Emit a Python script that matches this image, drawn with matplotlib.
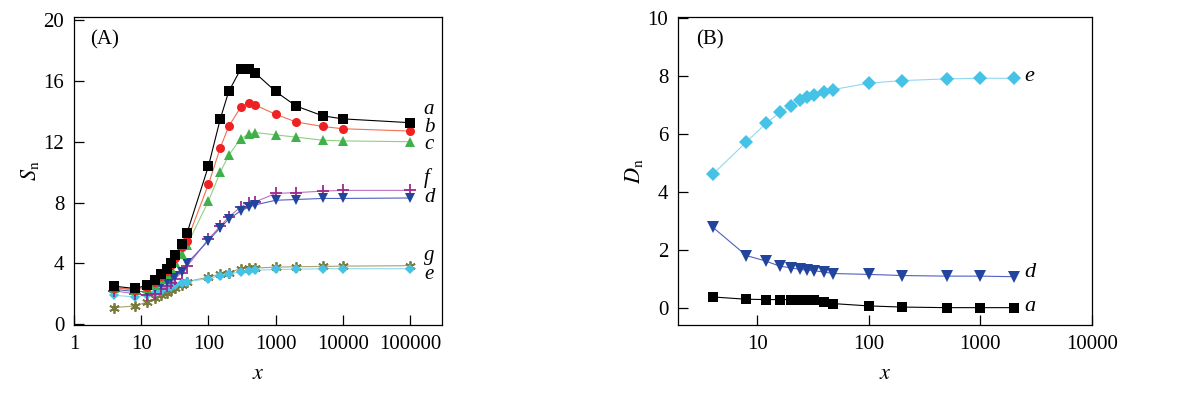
import matplotlib
matplotlib.use('Agg')
import matplotlib.pyplot as plt

plt.rcParams['font.family'] = ['Liberation Serif', 'DejaVu Serif']
plt.rcParams['mathtext.fontset'] = 'stix'

# ---- data, panel A ----
xA = [4, 8, 12, 16, 20, 24, 28, 32, 40, 48, 100, 150, 200, 300, 400, 500,
      1000, 2000, 5000, 10000, 100000]
Sa = [2.5, 2.35, 2.55, 2.9, 3.3, 3.65, 4.05, 4.55, 5.3, 6.0, 10.4, 13.5, 15.3,
      16.75, 16.8, 16.5, 15.3, 14.35, 13.7, 13.5, 13.25]
Sb = [2.4, 2.28, 2.45, 2.75, 3.15, 3.5, 3.9, 4.35, 5.1, 5.5, 9.2, 11.6, 13.0,
      14.25, 14.55, 14.4, 13.8, 13.3, 13.0, 12.85, 12.7]
Sc = [2.4, 2.25, 2.4, 2.6, 3.0, 3.3, 3.7, 4.1, 4.6, 5.2, 8.1, 10.0, 11.1,
      12.2, 12.5, 12.6, 12.45, 12.3, 12.1, 12.05, 12.0]
Sd = [2.3, 2.15, 2.15, 2.4, 2.55, 2.75, 3.0, 3.2, 3.45, 4.0, 5.5, 6.35, 6.9,
      7.45, 7.7, 7.85, 8.15, 8.2, 8.27, 8.27, 8.3]
Sf = [2.2, 2.0, 1.9, 2.0, 2.3, 2.5, 2.7, 3.0, 3.4, 3.8, 5.6, 6.45, 7.05,
      7.7, 8.0, 8.05, 8.6, 8.65, 8.75, 8.8, 8.8]
Sg = [1.1, 1.2, 1.45, 1.7, 1.9, 2.05, 2.25, 2.4, 2.6, 2.8, 3.1, 3.3, 3.4,
      3.65, 3.7, 3.7, 3.75, 3.78, 3.8, 3.82, 3.85]
Se = [1.9, 1.8, 1.9, 2.05, 2.2, 2.35, 2.45, 2.55, 2.7, 2.8, 3.0, 3.2, 3.3,
      3.45, 3.5, 3.55, 3.6, 3.62, 3.65, 3.65, 3.65]

# ---- data, panel B ----
xB = [4, 8, 12, 16, 20, 24, 28, 32, 40, 48, 100, 200, 500, 1000, 2000]
De = [4.61, 5.73, 6.37, 6.75, 6.98, 7.18, 7.29, 7.36, 7.47, 7.54, 7.76, 7.85,
      7.91, 7.93, 7.93]
Dd = [2.78, 1.80, 1.61, 1.43, 1.38, 1.32, 1.30, 1.28, 1.23, 1.18, 1.15, 1.11,
      1.09, 1.09, 1.07]
Da = [0.37, 0.29, 0.28, 0.28, 0.28, 0.28, 0.27, 0.26, 0.21, 0.14, 0.06, 0.02,
      0.0, 0.0, 0.0]

ticksA = [1, 10, 100, 1000, 10000, 100000]
ticksB = [10, 100, 1000, 10000]

# style per series: marker, marker colour, line colour
sty = {
    'a': ('s', '#000000', '#000000'),
    'b': ('o', '#ee2222', '#f07050'),
    'c': ('^', '#3fb04a', '#90d080'),
    'd': ('v', '#23449c', '#5060c0'),
    'f': ('+', '#a0288c', '#c070c0'),
    'g': ('*', '#7a7a3c', '#a8a070'),
    'e': ('D', '#45c3e6', '#90d8f0'),
}

fig = plt.figure(figsize=(11.84, 3.98), dpi=100)
ax0 = fig.add_axes([0.0625, 0.1834, 0.311, 0.774])
ax1 = fig.add_axes([0.5726, 0.1834, 0.3497, 0.774])


def draw(ax, x, y, key, ms=7):
    m, mc, lc = sty[key]
    ax.plot(x, y, '-', color=lc, lw=0.8, zorder=2)
    if m == '+':
        ax.plot(x, y, ls='none', marker='+', ms=ms + 2, mew=1.3, color=mc, zorder=3)
    elif m == '*':
        ax.plot(x, y, ls='none', marker=(6, 2, 0), ms=ms + 1, mew=1.3, color=mc, zorder=3)
    else:
        s = ms - 1 if m == 'D' else ms
        ax.plot(x, y, ls='none', marker=m, ms=s, mew=0, color=mc, zorder=3)


for k, y in [('g', Sg), ('e', Se), ('f', Sf), ('d', Sd), ('c', Sc), ('b', Sb), ('a', Sa)]:
    draw(ax0, xA, y, k, ms=6.5)

draw(ax1, xB, De, 'e', ms=8)
draw(ax1, xB, Dd, 'd', ms=8)
draw(ax1, xB, Da, 'a', ms=7)

# panel A axes
ax0.set_xscale('log')
ax0.set_xlim(1, 3e5)
ax0.set_ylim(-0.05, 20.2)
ax0.set_xticks(ticksA)
ax0.set_xticklabels([str(t) for t in ticksA])
ax0.set_yticks([0, 4, 8, 12, 16, 20])
ax0.set_ylabel(r'$S_{\rm n}$', fontsize=16, labelpad=2)
ax0.set_xlabel(r'$x$', fontsize=16, labelpad=8)
ax0.text(0.045, 0.925, '(A)', transform=ax0.transAxes, fontsize=15, va='center')
for lab, yy in [('a', 14.1), ('b', 12.95), ('c', 11.8), ('f', 9.6), ('d', 8.3),
                ('g', 4.5), ('e', 3.3)]:
    ax0.text(1.6e5, yy, lab, fontsize=15, style='italic', va='center', ha='left')

# panel B axes
ax1.set_xscale('log')
ax1.set_xlim(1.95, 10000)
ax1.set_ylim(-0.6, 10.05)
ax1.set_xticks(ticksB)
ax1.set_xticklabels([str(t) for t in ticksB])
ax1.set_yticks([0, 2, 4, 6, 8, 10])
ax1.set_ylabel(r'$D_{\rm n}$', fontsize=16, labelpad=2)
ax1.set_xlabel(r'$x$', fontsize=16, labelpad=8)
ax1.text(0.043, 0.925, '(B)', transform=ax1.transAxes, fontsize=15, va='center')
for lab, yy in [('e', 7.98), ('d', 1.2), ('a', 0.05)]:
    ax1.text(2500, yy, lab, fontsize=16, style='italic', va='center', ha='left')

for ax in (ax0, ax1):
    ax.minorticks_off()
    ax.tick_params(direction='in', length=7, width=0.9, labelsize=15, pad=7,
                   top=False, right=False)
    for sp in ax.spines.values():
        sp.set_linewidth(0.9)

fig.savefig('out.png', dpi=100)
